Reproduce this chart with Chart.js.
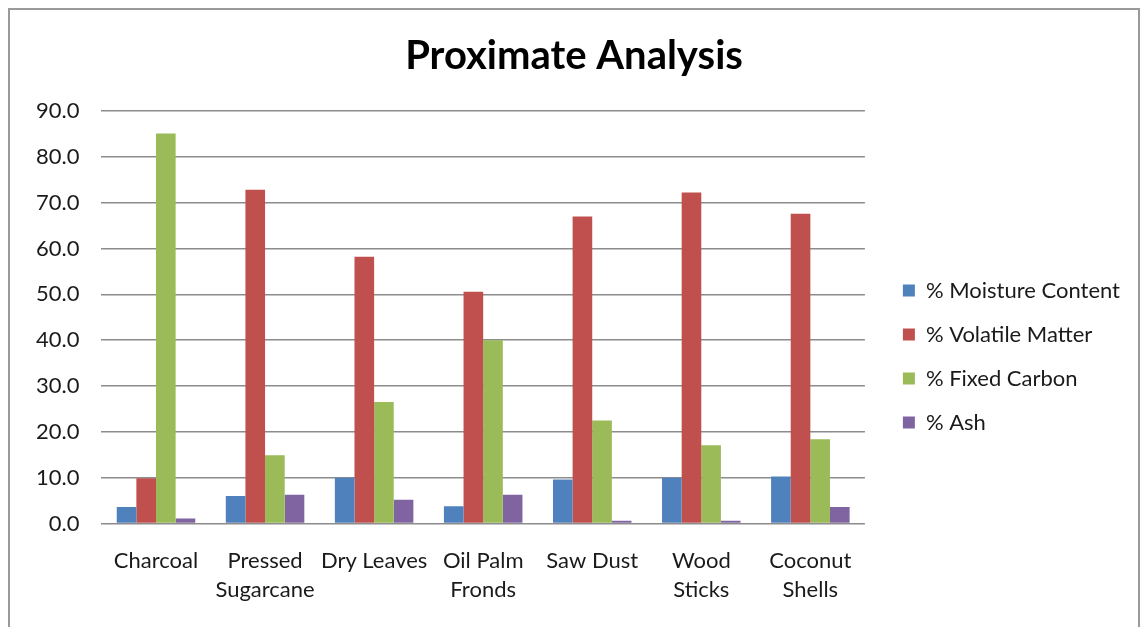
<!DOCTYPE html>
<html>
<head>
<meta charset="utf-8">
<script src="https://cdn.jsdelivr.net/npm/chart.js@4"></script>
<style>
    html, body { margin: 0; padding: 0; background: #fff; }
    #frame {
        position: absolute;
        left: 8px; top: 8px;
        width: 1128px; height: 640px;
        border: 2px solid #9a9a9a;
        background: #fff;
    }
    #wrap { position: absolute; left: 0; top: 0; width: 1128px; height: 617px; }
</style>
</head>
<body>
<div id="frame"><div id="wrap"><canvas id="proximateChart"></canvas></div></div>
<script>
const fuels = [["Charcoal"], ["Pressed", "Sugarcane"], ["Dry Leaves"], ["Oil Palm", "Fronds"], ["Saw Dust"], ["Wood", "Sticks"], ["Coconut", "Shells"]];
const moisture = [3.6, 6.0, 10.0, 3.8, 9.6, 10.0, 10.3];
const volatile = [9.9, 72.8, 58.2, 50.6, 67.0, 72.2, 67.6];
const fixedCarbon = [85.1, 14.9, 26.5, 40.0, 22.5, 17.1, 18.4];
const ash = [1.1, 6.3, 5.2, 6.3, 0.6, 0.6, 3.6];

const FONT = "Lato, 'Open Sans', sans-serif";

function series(label, data, color) {
    return { label, data, backgroundColor: color, borderWidth: 0, categoryPercentage: 0.72, barPercentage: 1.0 };
}

// pushes the legend a bit further from the plot, and centres the title on the whole canvas
const layoutTweaks = {
    id: 'layoutTweaks',
    afterLayout(chart) {
        chart.legend.left += 16;
        chart.legend.right += 16;
        chart.titleBlock.left = 0;
        chart.titleBlock.right = chart.width;
    }
};

document.addEventListener("DOMContentLoaded", () => {
    Chart.defaults.font.family = FONT;
    Chart.defaults.color = '#1a1a1a';
    new Chart(document.getElementById("proximateChart").getContext("2d"), {
        type: 'bar',
        data: {
            labels: fuels,
            datasets: [
                series("% Moisture Content", moisture, "#4F81BD"),
                series("% Volatile Matter", volatile, "#C0504D"),
                series("% Fixed Carbon", fixedCarbon, "#9BBB59"),
                series("% Ash", ash, "#8064A2")
            ]
        },
        plugins: [layoutTweaks],
        options: {
            responsive: true,
            maintainAspectRatio: false,
            animation: false,
            layout: { padding: { left: 4, right: 24, top: 16, bottom: 8 } },
            plugins: {
                title: {
                    display: true,
                    text: "Proximate Analysis",
                    font: { size: 40, weight: 'bold' },
                    color: '#000',
                    padding: { top: 6, bottom: 31 }
                },
                legend: {
                    position: 'right',
                    // empty legend title pushes the entries a little lower
                    title: { display: true, text: '', padding: 22, font: { size: 20 } },
                    labels: {
                        font: { size: 22 },
                        boxWidth: 12,
                        boxHeight: 12,
                        padding: 22
                    }
                },
                tooltip: { enabled: false }
            },
            scales: {
                x: {
                    grid: { display: false },
                    border: { display: false },
                    ticks: { font: { size: 22, lineHeight: 1.35 }, maxRotation: 0, autoSkip: false, padding: 14 }
                },
                y: {
                    min: 0,
                    max: 90,
                    border: { display: false },
                    grid: { color: '#8c8c8c', lineWidth: 1.5, drawTicks: false },
                    ticks: {
                        stepSize: 10,
                        font: { size: 22 },
                        padding: 22,
                        callback: v => v.toFixed(1)
                    }
                }
            }
        }
    });
});
</script>
</body>
</html>
